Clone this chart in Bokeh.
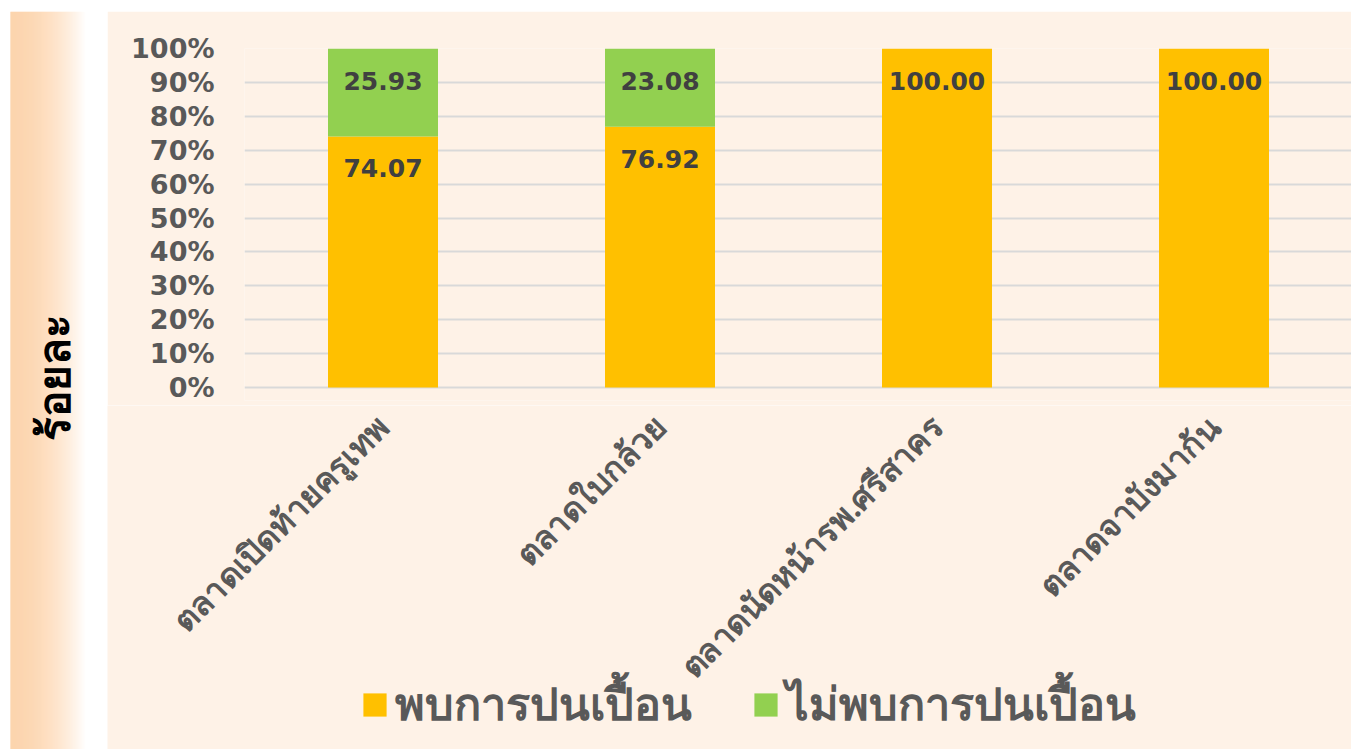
from bokeh.plotting import figure
from bokeh.layouts import row, column
from bokeh.models import (Range1d, FixedTicker, Legend, LegendItem, ColumnDataSource, Spacer)
from bokeh.core.properties import value
from bokeh.embed import file_html
from bokeh.resources import INLINE
import math

# ---- data ----
markets = ["ตลาดเปิดท้ายครูเทพ", "ตลาดใบกล้วย", "ตลาดนัดหน้ารพ.ศรีสาคร", "ตลาดจาบังมาก้น"]
found = [74.07, 76.92, 100.00, 100.00]
not_found = [25.93, 23.08, 0.00, 0.00]
series_names = ["พบการปนเปื้อน", "ไม่พบการปนเปื้อน"]
y_ticks = [0, 10, 20, 30, 40, 50, 60, 70, 80, 90, 100]
y_title = "ร้อยละ"

THAI_FONT = "Tahoma"
NUM_FONT = "DejaVu Sans"
GRAY = "#595959"
DARK = "#404040"
C_FOUND = "#FFC000"
C_NOT = "#92D050"
PANEL = "#FEF2E7"

# ---- layout geometry (page pixels) ----
TOPGAP = 11
PAGE_H = 749
H = PAGE_H - TOPGAP
SW = 107                 # left strip figure width
W2 = 1351 - SW           # main column width
LEFT_BORDER = 137
PX_PER_CAT = 277
Y100 = 48                # page y of 100%
Y0 = 387                 # page y of 0%
PPU = (Y0 - Y100) / 100.0
SPLIT = 405              # page y where upper figure ends
TOP_FRAME_BOTTOM = 400

xs = list(range(len(markets)))
src = ColumnDataSource(dict(x=xs, found=found, not_found=not_found, name=markets))

# ---- left strip with gradient and title ----
side = figure(width=SW, height=H, x_range=Range1d(0, SW), y_range=Range1d(0, H),
              output_backend="svg", toolbar_location=None, min_border=0)
side.frame_align = False
side.axis.visible = False
side.grid.visible = False
side.outline_line_color = None
side.background_fill_color = "white"
side.border_fill_color = "white"
c0 = (252, 199, 148)
n = 76
lefts, rights, cols = [], [], []
for i in range(n):
    t = (i / (n - 1)) ** 2.0
    r = int(round(c0[0] + (255 - c0[0]) * t))
    g = int(round(c0[1] + (255 - c0[1]) * t))
    b = int(round(c0[2] + (255 - c0[2]) * t))
    lefts.append(10 + i)
    rights.append(11 + i)
    cols.append("#%02x%02x%02x" % (r, g, b))
side.quad(left=lefts, right=rights, bottom=0, top=H, fill_color=cols, line_color=None)
side.text(x=[55], y=[H - (377 - TOPGAP)], text=[y_title], angle=math.pi / 2,
          text_align="center", text_baseline="middle",
          text_font=value(THAI_FONT), text_font_size="44px", text_font_style="bold",
          text_color="black")

# ---- upper chart: bars, grid, y axis ----
x_end = -0.5 + (W2 - LEFT_BORDER) / PX_PER_CAT
H_top = SPLIT - TOPGAP
p = figure(width=W2, height=H_top,
           x_range=Range1d(-0.5, x_end),
           y_range=Range1d(-(TOP_FRAME_BOTTOM - Y0) / PPU, 100),
           output_backend="svg", toolbar_location=None,
           min_border_left=LEFT_BORDER, min_border_right=0,
           min_border_top=Y100 - TOPGAP, min_border_bottom=SPLIT - TOP_FRAME_BOTTOM)
p.frame_align = False
p.background_fill_color = PANEL
p.border_fill_color = PANEL
p.outline_line_color = None

rs = p.vbar_stack(["found", "not_found"], x="x", width=110 / PX_PER_CAT, source=src,
                  color=[C_FOUND, C_NOT], line_color=None)

lab_x, lab_y, lab_t = [], [], []
for i in range(len(markets)):
    lab_x.append(xs[i]); lab_y.append(found[i]); lab_t.append("%.2f" % found[i])
    if not_found[i] > 0:
        lab_x.append(xs[i]); lab_y.append(found[i] + not_found[i]); lab_t.append("%.2f" % not_found[i])
p.text(x=lab_x, y=lab_y, text=lab_t, y_offset=32, text_align="center", text_baseline="middle",
       text_font=value(NUM_FONT), text_font_size="25px", text_font_style="bold", text_color=DARK)

p.xgrid.visible = False
p.ygrid.ticker = FixedTicker(ticks=y_ticks)
p.ygrid.grid_line_color = "#D9D9D9"
p.ygrid.grid_line_width = 2

p.xaxis.visible = False
p.yaxis.ticker = FixedTicker(ticks=y_ticks)
p.yaxis.major_label_overrides = {t: "%d%%" % t for t in y_ticks}
p.yaxis.axis_line_color = None
p.yaxis.major_tick_line_color = None
p.yaxis.minor_tick_line_color = None
p.yaxis.major_label_text_font = NUM_FONT
p.yaxis.major_label_text_font_size = "27px"
p.yaxis.major_label_text_font_style = "bold"
p.yaxis.major_label_text_color = GRAY
p.yaxis.major_label_standoff = 24

# ---- lower area: category labels and legend (same x scale, extended left) ----
H_bot = PAGE_H - SPLIT
LABEL_GAP = 34
q = figure(width=W2, height=H_bot,
           x_range=Range1d(-0.5 - LEFT_BORDER / PX_PER_CAT, x_end),
           y_range=Range1d(-(PAGE_H - Y0) / PPU, -(SPLIT - Y0) / PPU),
           output_backend="svg", toolbar_location=None, min_border=0)
q.frame_align = False
q.background_fill_color = PANEL
q.border_fill_color = PANEL
q.outline_line_color = None
q.axis.visible = False
q.grid.visible = False

# same bar series, hidden here, so the legend swatches come from them
rs_q = q.vbar_stack(["found", "not_found"], x="x", width=110 / PX_PER_CAT, source=src,
                    color=[C_FOUND, C_NOT], line_color=None)
for r_ in rs_q:
    r_.visible = False

q.text(x="x", y=-LABEL_GAP / PPU, text="name", source=src, angle=math.pi / 4, x_offset=1,
       text_align="right", text_baseline="middle",
       text_font=value(THAI_FONT), text_font_size="33px", text_font_style="bold", text_color=GRAY)

legend = Legend(items=[LegendItem(label=series_names[0], renderers=[rs_q[0]]),
                       LegendItem(label=series_names[1], renderers=[rs_q[1]])],
                orientation="horizontal", location=(253, 9))
legend.label_text_font = THAI_FONT
legend.label_text_font_size = "45px"
legend.label_text_font_style = "bold"
legend.label_text_color = GRAY
legend.glyph_width = 29
legend.glyph_height = 29
legend.label_standoff = 6
legend.spacing = 59
legend.padding = 0
legend.margin = 0
legend.background_fill_alpha = 0
legend.border_line_color = None
legend.inactive_fill_alpha = 0
q.add_layout(legend, "center")

layout = column(Spacer(width=1351, height=TOPGAP), row(side, column(p, q)))
open("out.html", "w").write(file_html(layout, INLINE))
